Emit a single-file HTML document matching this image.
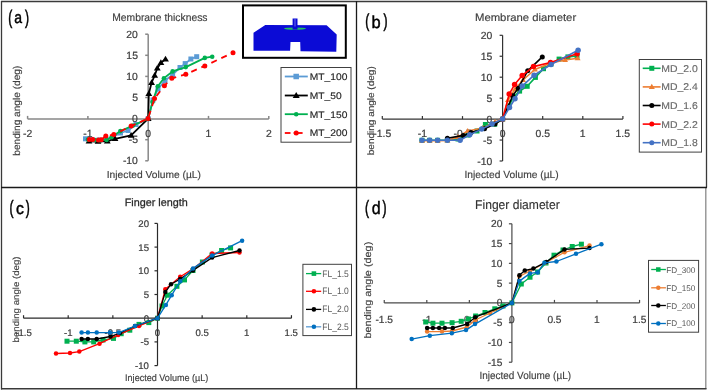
<!DOCTYPE html>
<html><head><meta charset="utf-8"><style>
html,body{margin:0;padding:0;background:#fff;overflow:hidden;}
svg{display:block;filter:blur(0.3px);}
text{font-family:"Liberation Sans", sans-serif;text-rendering:geometricPrecision;}
text.b{stroke-width:0.3px;}
</style></head><body>
<svg width="708" height="391" viewBox="0 0 708 391">
<rect width="708" height="391" fill="#fff"/>
<line x1="27.60" y1="118.90" x2="268.80" y2="118.90" stroke="#878787" stroke-width="1.5"/>
<line x1="27.60" y1="115.90" x2="27.60" y2="118.90" stroke="#878787" stroke-width="1.5"/>
<line x1="87.90" y1="115.90" x2="87.90" y2="118.90" stroke="#878787" stroke-width="1.5"/>
<line x1="148.20" y1="115.90" x2="148.20" y2="118.90" stroke="#878787" stroke-width="1.5"/>
<line x1="208.50" y1="115.90" x2="208.50" y2="118.90" stroke="#878787" stroke-width="1.5"/>
<line x1="268.80" y1="115.90" x2="268.80" y2="118.90" stroke="#878787" stroke-width="1.5"/>
<line x1="148.20" y1="34.20" x2="148.20" y2="160.80" stroke="#878787" stroke-width="1.5"/>
<line x1="145.20" y1="34.20" x2="148.20" y2="34.20" stroke="#878787" stroke-width="1.5"/>
<line x1="145.20" y1="55.30" x2="148.20" y2="55.30" stroke="#878787" stroke-width="1.5"/>
<line x1="145.20" y1="76.40" x2="148.20" y2="76.40" stroke="#878787" stroke-width="1.5"/>
<line x1="145.20" y1="97.50" x2="148.20" y2="97.50" stroke="#878787" stroke-width="1.5"/>
<line x1="145.20" y1="118.60" x2="148.20" y2="118.60" stroke="#878787" stroke-width="1.5"/>
<line x1="145.20" y1="139.70" x2="148.20" y2="139.70" stroke="#878787" stroke-width="1.5"/>
<line x1="145.20" y1="160.80" x2="148.20" y2="160.80" stroke="#878787" stroke-width="1.5"/>
<text x="23.01" y="137.20" font-size="10.40" fill="#404040" text-anchor="start" stroke="#404040" stroke-width="0.22">-2</text>
<text x="83.30" y="137.20" font-size="10.40" fill="#404040" text-anchor="start" stroke="#404040" stroke-width="0.22">-1</text>
<text x="145.31" y="137.20" font-size="10.40" fill="#404040" text-anchor="start" stroke="#404040" stroke-width="0.22">0</text>
<text x="205.47" y="137.20" font-size="10.40" fill="#404040" text-anchor="start" stroke="#404040" stroke-width="0.22">1</text>
<text x="265.91" y="137.20" font-size="10.40" fill="#404040" text-anchor="start" stroke="#404040" stroke-width="0.22">2</text>
<text x="126.34" y="37.80" font-size="10.40" fill="#404040" text-anchor="start" stroke="#404040" stroke-width="0.22">20</text>
<text x="126.37" y="58.90" font-size="10.40" fill="#404040" text-anchor="start" stroke="#404040" stroke-width="0.22">15</text>
<text x="126.34" y="80.00" font-size="10.40" fill="#404040" text-anchor="start" stroke="#404040" stroke-width="0.22">10</text>
<text x="132.15" y="101.10" font-size="10.40" fill="#404040" text-anchor="start" stroke="#404040" stroke-width="0.22">5</text>
<text x="132.12" y="122.20" font-size="10.40" fill="#404040" text-anchor="start" stroke="#404040" stroke-width="0.22">0</text>
<text x="128.69" y="143.30" font-size="10.40" fill="#404040" text-anchor="start" stroke="#404040" stroke-width="0.22">-5</text>
<text x="122.88" y="164.40" font-size="10.40" fill="#404040" text-anchor="start" stroke="#404040" stroke-width="0.22">-10</text>
<polyline points="85.5,138.8 92.0,139.6 99.0,140.0 106.0,139.2 113.0,137.0 120.5,133.0 128.0,130.5 136.0,124.5 148.2,118.6 153.0,100.0 158.0,89.0 165.0,80.5 172.6,74.7 180.0,67.5 185.2,63.6 190.9,59.0 196.7,56.7" fill="none" stroke="#5B9BD5" stroke-width="1.8" stroke-linejoin="round"/>
<rect x="83.00" y="136.30" width="5.00" height="5.00" fill="#5B9BD5"/>
<rect x="89.50" y="137.10" width="5.00" height="5.00" fill="#5B9BD5"/>
<rect x="96.50" y="137.50" width="5.00" height="5.00" fill="#5B9BD5"/>
<rect x="103.50" y="136.70" width="5.00" height="5.00" fill="#5B9BD5"/>
<rect x="110.50" y="134.50" width="5.00" height="5.00" fill="#5B9BD5"/>
<rect x="118.00" y="130.50" width="5.00" height="5.00" fill="#5B9BD5"/>
<rect x="125.50" y="128.00" width="5.00" height="5.00" fill="#5B9BD5"/>
<rect x="133.50" y="122.00" width="5.00" height="5.00" fill="#5B9BD5"/>
<rect x="145.70" y="116.10" width="5.00" height="5.00" fill="#5B9BD5"/>
<rect x="150.50" y="97.50" width="5.00" height="5.00" fill="#5B9BD5"/>
<rect x="155.50" y="86.50" width="5.00" height="5.00" fill="#5B9BD5"/>
<rect x="162.50" y="78.00" width="5.00" height="5.00" fill="#5B9BD5"/>
<rect x="170.10" y="72.20" width="5.00" height="5.00" fill="#5B9BD5"/>
<rect x="177.50" y="65.00" width="5.00" height="5.00" fill="#5B9BD5"/>
<rect x="182.70" y="61.10" width="5.00" height="5.00" fill="#5B9BD5"/>
<rect x="188.40" y="56.50" width="5.00" height="5.00" fill="#5B9BD5"/>
<rect x="194.20" y="54.20" width="5.00" height="5.00" fill="#5B9BD5"/>
<polyline points="89.0,141.3 98.0,141.5 107.3,141.2 115.0,138.8 131.1,135.4 148.2,118.6 148.8,93.7 151.6,82.6 154.7,75.5 157.3,68.3 160.9,62.7 165.5,59.1" fill="none" stroke="#000000" stroke-width="1.8" stroke-linejoin="round"/>
<polygon points="89.00,137.83 92.40,143.61 85.60,143.61" fill="#000000"/>
<polygon points="98.00,138.03 101.40,143.81 94.60,143.81" fill="#000000"/>
<polygon points="107.30,137.73 110.70,143.51 103.90,143.51" fill="#000000"/>
<polygon points="115.00,135.33 118.40,141.11 111.60,141.11" fill="#000000"/>
<polygon points="131.10,131.93 134.50,137.71 127.70,137.71" fill="#000000"/>
<polygon points="148.20,115.13 151.60,120.91 144.80,120.91" fill="#000000"/>
<polygon points="148.80,90.23 152.20,96.01 145.40,96.01" fill="#000000"/>
<polygon points="151.60,79.13 155.00,84.91 148.20,84.91" fill="#000000"/>
<polygon points="154.70,72.03 158.10,77.81 151.30,77.81" fill="#000000"/>
<polygon points="157.30,64.83 160.70,70.61 153.90,70.61" fill="#000000"/>
<polygon points="160.90,59.23 164.30,65.01 157.50,65.01" fill="#000000"/>
<polygon points="165.50,55.63 168.90,61.41 162.10,61.41" fill="#000000"/>
<polyline points="88.0,139.6 95.0,140.0 100.0,140.2 106.6,139.9 111.5,137.3 120.4,131.1 133.0,125.5 148.2,118.6 152.5,102.0 157.8,86.2 163.9,78.3 172.6,71.4 185.8,67.1 204.8,57.9 212.2,56.7" fill="none" stroke="#00B050" stroke-width="1.8" stroke-linejoin="round"/>
<circle cx="88.00" cy="139.60" r="2.30" fill="#00B050"/>
<circle cx="95.00" cy="140.00" r="2.30" fill="#00B050"/>
<circle cx="100.00" cy="140.20" r="2.30" fill="#00B050"/>
<circle cx="106.60" cy="139.90" r="2.30" fill="#00B050"/>
<circle cx="111.50" cy="137.30" r="2.30" fill="#00B050"/>
<circle cx="120.40" cy="131.10" r="2.30" fill="#00B050"/>
<circle cx="133.00" cy="125.50" r="2.30" fill="#00B050"/>
<circle cx="148.20" cy="118.60" r="2.30" fill="#00B050"/>
<circle cx="152.50" cy="102.00" r="2.30" fill="#00B050"/>
<circle cx="157.80" cy="86.20" r="2.30" fill="#00B050"/>
<circle cx="163.90" cy="78.30" r="2.30" fill="#00B050"/>
<circle cx="172.60" cy="71.40" r="2.30" fill="#00B050"/>
<circle cx="185.80" cy="67.10" r="2.30" fill="#00B050"/>
<circle cx="204.80" cy="57.90" r="2.30" fill="#00B050"/>
<circle cx="212.20" cy="56.70" r="2.30" fill="#00B050"/>
<polyline points="89.3,139.4 92.7,139.4 98.5,139.9 101.2,139.7 105.8,136.1 113.8,134.6 131.1,126.1 148.0,118.6 154.5,98.6 164.4,85.7 171.8,78.3 185.8,74.3 204.8,65.9 233.0,52.7" fill="none" stroke="#FF0000" stroke-width="1.8" stroke-linejoin="round" stroke-dasharray="6,5"/>
<circle cx="89.30" cy="139.40" r="2.50" fill="#FF0000"/>
<circle cx="92.70" cy="139.40" r="2.50" fill="#FF0000"/>
<circle cx="98.50" cy="139.90" r="2.50" fill="#FF0000"/>
<circle cx="101.20" cy="139.70" r="2.50" fill="#FF0000"/>
<circle cx="105.80" cy="136.10" r="2.50" fill="#FF0000"/>
<circle cx="113.80" cy="134.60" r="2.50" fill="#FF0000"/>
<circle cx="131.10" cy="126.10" r="2.50" fill="#FF0000"/>
<circle cx="148.00" cy="118.60" r="2.50" fill="#FF0000"/>
<circle cx="154.50" cy="98.60" r="2.50" fill="#FF0000"/>
<circle cx="164.40" cy="85.70" r="2.50" fill="#FF0000"/>
<circle cx="171.80" cy="78.30" r="2.50" fill="#FF0000"/>
<circle cx="185.80" cy="74.30" r="2.50" fill="#FF0000"/>
<circle cx="204.80" cy="65.90" r="2.50" fill="#FF0000"/>
<circle cx="233.00" cy="52.70" r="2.50" fill="#FF0000"/>
<text x="112.25" y="20.80" font-size="10.76" fill="#404040" text-anchor="start" textLength="95.22" lengthAdjust="spacingAndGlyphs" stroke="#404040" stroke-width="0.15">Membrane thickness</text>
<text x="106.76" y="178.19" font-size="10.19" fill="#404040" text-anchor="start" textLength="94.17" lengthAdjust="spacingAndGlyphs" stroke="#404040" stroke-width="0.15">Injected Volume (µL)</text>
<text x="0" y="0" font-size="9.87" fill="#404040" textLength="90.08" lengthAdjust="spacingAndGlyphs" transform="translate(19.75,155.75) rotate(-90)" stroke="#404040" stroke-width="0.15">bending angle (deg)</text>
<rect x="281.00" y="67.50" width="70.00" height="74.70" fill="#fff" stroke="#404040" stroke-width="1"/>
<line x1="284.80" y1="76.50" x2="307.80" y2="76.50" stroke="#5B9BD5" stroke-width="1.8"/>
<rect x="293.45" y="73.75" width="5.50" height="5.50" fill="#5B9BD5"/>
<text x="309.76" y="79.80" font-size="9.59" fill="#262626" text-anchor="start" textLength="37.64" lengthAdjust="spacingAndGlyphs" stroke="#262626" stroke-width="0.15">MT_100</text>
<line x1="284.80" y1="95.50" x2="307.80" y2="95.50" stroke="#000000" stroke-width="1.8"/>
<polygon points="296.20,91.93 299.70,97.88 292.70,97.88" fill="#000000"/>
<text x="309.76" y="99.00" font-size="9.59" fill="#262626" text-anchor="start" textLength="31.94" lengthAdjust="spacingAndGlyphs" stroke="#262626" stroke-width="0.15">MT_50</text>
<line x1="284.80" y1="114.20" x2="307.80" y2="114.20" stroke="#00B050" stroke-width="1.8"/>
<circle cx="296.20" cy="114.20" r="2.30" fill="#00B050"/>
<text x="309.76" y="117.50" font-size="9.59" fill="#262626" text-anchor="start" textLength="37.64" lengthAdjust="spacingAndGlyphs" stroke="#262626" stroke-width="0.15">MT_150</text>
<line x1="284.80" y1="133.00" x2="290.50" y2="133.00" stroke="#FF0000" stroke-width="1.8"/>
<line x1="293.70" y1="133.00" x2="302.60" y2="133.00" stroke="#FF0000" stroke-width="1.8"/>
<circle cx="296.20" cy="133.00" r="2.50" fill="#FF0000"/>
<text x="309.76" y="136.30" font-size="9.59" fill="#262626" text-anchor="start" textLength="37.64" lengthAdjust="spacingAndGlyphs" stroke="#262626" stroke-width="0.15">MT_200</text>
<rect x="243" y="5.4" width="102.8" height="52.4" fill="#fff" stroke="#000" stroke-width="2"/>
<polygon points="265.3,24.9 326.6,25.2 336.7,34.5 336.3,51.8 300.5,51.3 300.2,42 290.5,42 290.1,50.8 253.5,50.8 253.5,32.8" fill="#0b0bd6"/>
<rect x="292.6" y="18.5" width="4.9" height="11" fill="#0b0bd6"/>
<line x1="295" y1="19" x2="295" y2="29" stroke="#8a8af0" stroke-width="0.8"/>
<ellipse cx="295" cy="28.6" rx="11" ry="1.1" fill="#20c060"/>
<rect x="292.6" y="26.5" width="4.9" height="3" fill="#0b0bd6"/>
<text x="8.20" y="23.56" font-size="19.54" fill="#000" text-anchor="start" textLength="4.02" lengthAdjust="spacingAndGlyphs" stroke="#000" stroke-width="0.6">(</text>
<text x="24.98" y="23.56" font-size="19.54" fill="#000" text-anchor="start" textLength="4.02" lengthAdjust="spacingAndGlyphs" stroke="#000" stroke-width="0.6">)</text>
<text x="14.30" y="23.44" font-size="16.61" fill="#000" text-anchor="start" textLength="7.80" lengthAdjust="spacingAndGlyphs" stroke="#000" stroke-width="0.45">a</text>
<line x1="382.30" y1="119.10" x2="622.90" y2="119.10" stroke="#333333" stroke-width="1.2"/>
<line x1="382.30" y1="116.10" x2="382.30" y2="119.10" stroke="#333333" stroke-width="1.2"/>
<line x1="422.40" y1="116.10" x2="422.40" y2="119.10" stroke="#333333" stroke-width="1.2"/>
<line x1="462.50" y1="116.10" x2="462.50" y2="119.10" stroke="#333333" stroke-width="1.2"/>
<line x1="502.60" y1="116.10" x2="502.60" y2="119.10" stroke="#333333" stroke-width="1.2"/>
<line x1="542.70" y1="116.10" x2="542.70" y2="119.10" stroke="#333333" stroke-width="1.2"/>
<line x1="582.80" y1="116.10" x2="582.80" y2="119.10" stroke="#333333" stroke-width="1.2"/>
<line x1="622.90" y1="116.10" x2="622.90" y2="119.10" stroke="#333333" stroke-width="1.2"/>
<line x1="502.60" y1="35.30" x2="502.60" y2="161.00" stroke="#333333" stroke-width="1.2"/>
<line x1="499.60" y1="35.30" x2="502.60" y2="35.30" stroke="#333333" stroke-width="1.2"/>
<line x1="499.60" y1="56.25" x2="502.60" y2="56.25" stroke="#333333" stroke-width="1.2"/>
<line x1="499.60" y1="77.20" x2="502.60" y2="77.20" stroke="#333333" stroke-width="1.2"/>
<line x1="499.60" y1="98.15" x2="502.60" y2="98.15" stroke="#333333" stroke-width="1.2"/>
<line x1="499.60" y1="119.10" x2="502.60" y2="119.10" stroke="#333333" stroke-width="1.2"/>
<line x1="499.60" y1="140.05" x2="502.60" y2="140.05" stroke="#333333" stroke-width="1.2"/>
<line x1="499.60" y1="161.00" x2="502.60" y2="161.00" stroke="#333333" stroke-width="1.2"/>
<text x="373.33" y="137.20" font-size="10.40" fill="#404040" text-anchor="start" stroke="#404040" stroke-width="0.22">-1.5</text>
<text x="417.80" y="137.20" font-size="10.40" fill="#404040" text-anchor="start" stroke="#404040" stroke-width="0.22">-1</text>
<text x="453.53" y="137.20" font-size="10.40" fill="#404040" text-anchor="start" stroke="#404040" stroke-width="0.22">-0.5</text>
<text x="499.71" y="137.20" font-size="10.40" fill="#404040" text-anchor="start" stroke="#404040" stroke-width="0.22">0</text>
<text x="535.49" y="137.20" font-size="10.40" fill="#404040" text-anchor="start" stroke="#404040" stroke-width="0.22">0.5</text>
<text x="579.77" y="137.20" font-size="10.40" fill="#404040" text-anchor="start" stroke="#404040" stroke-width="0.22">1</text>
<text x="615.49" y="137.20" font-size="10.40" fill="#404040" text-anchor="start" stroke="#404040" stroke-width="0.22">1.5</text>
<text x="480.74" y="38.90" font-size="10.40" fill="#404040" text-anchor="start" stroke="#404040" stroke-width="0.22">20</text>
<text x="480.77" y="59.85" font-size="10.40" fill="#404040" text-anchor="start" stroke="#404040" stroke-width="0.22">15</text>
<text x="480.74" y="80.80" font-size="10.40" fill="#404040" text-anchor="start" stroke="#404040" stroke-width="0.22">10</text>
<text x="486.55" y="101.75" font-size="10.40" fill="#404040" text-anchor="start" stroke="#404040" stroke-width="0.22">5</text>
<text x="486.52" y="122.70" font-size="10.40" fill="#404040" text-anchor="start" stroke="#404040" stroke-width="0.22">0</text>
<text x="483.09" y="143.65" font-size="10.40" fill="#404040" text-anchor="start" stroke="#404040" stroke-width="0.22">-5</text>
<text x="477.27" y="164.60" font-size="10.40" fill="#404040" text-anchor="start" stroke="#404040" stroke-width="0.22">-10</text>
<polyline points="422.0,140.3 429.6,140.3 437.6,140.3 447.4,140.0 458.0,139.0 468.0,135.0 477.0,131.0 485.4,124.5 494.7,124.2 502.6,119.1 509.0,106.0 513.5,97.0 519.6,91.1 527.2,86.3 535.4,77.4 543.5,68.7 551.0,64.0 559.1,59.1 567.9,56.9 577.0,56.0" fill="none" stroke="#00B050" stroke-width="1.6" stroke-linejoin="round"/>
<rect x="419.50" y="137.80" width="5.00" height="5.00" fill="#00B050"/>
<rect x="427.10" y="137.80" width="5.00" height="5.00" fill="#00B050"/>
<rect x="435.10" y="137.80" width="5.00" height="5.00" fill="#00B050"/>
<rect x="444.90" y="137.50" width="5.00" height="5.00" fill="#00B050"/>
<rect x="455.50" y="136.50" width="5.00" height="5.00" fill="#00B050"/>
<rect x="465.50" y="132.50" width="5.00" height="5.00" fill="#00B050"/>
<rect x="474.50" y="128.50" width="5.00" height="5.00" fill="#00B050"/>
<rect x="482.90" y="122.00" width="5.00" height="5.00" fill="#00B050"/>
<rect x="492.20" y="121.70" width="5.00" height="5.00" fill="#00B050"/>
<rect x="500.10" y="116.60" width="5.00" height="5.00" fill="#00B050"/>
<rect x="506.50" y="103.50" width="5.00" height="5.00" fill="#00B050"/>
<rect x="511.00" y="94.50" width="5.00" height="5.00" fill="#00B050"/>
<rect x="517.10" y="88.60" width="5.00" height="5.00" fill="#00B050"/>
<rect x="524.70" y="83.80" width="5.00" height="5.00" fill="#00B050"/>
<rect x="532.90" y="74.90" width="5.00" height="5.00" fill="#00B050"/>
<rect x="541.00" y="66.20" width="5.00" height="5.00" fill="#00B050"/>
<rect x="548.50" y="61.50" width="5.00" height="5.00" fill="#00B050"/>
<rect x="556.60" y="56.60" width="5.00" height="5.00" fill="#00B050"/>
<rect x="565.40" y="54.40" width="5.00" height="5.00" fill="#00B050"/>
<rect x="574.50" y="53.50" width="5.00" height="5.00" fill="#00B050"/>
<polyline points="422.0,140.8 429.6,140.8 437.6,140.8 447.4,140.5 458.0,137.0 467.7,131.0 483.0,128.0 495.0,122.0 502.6,119.1 508.0,100.0 515.0,89.3 523.0,80.0 534.9,69.5 551.0,63.0 565.0,60.0 577.6,58.2" fill="none" stroke="#ED7D31" stroke-width="1.6" stroke-linejoin="round"/>
<polygon points="422.00,137.74 425.00,142.84 419.00,142.84" fill="#ED7D31"/>
<polygon points="429.60,137.74 432.60,142.84 426.60,142.84" fill="#ED7D31"/>
<polygon points="437.60,137.74 440.60,142.84 434.60,142.84" fill="#ED7D31"/>
<polygon points="447.40,137.44 450.40,142.54 444.40,142.54" fill="#ED7D31"/>
<polygon points="458.00,133.94 461.00,139.04 455.00,139.04" fill="#ED7D31"/>
<polygon points="467.70,127.94 470.70,133.04 464.70,133.04" fill="#ED7D31"/>
<polygon points="483.00,124.94 486.00,130.04 480.00,130.04" fill="#ED7D31"/>
<polygon points="495.00,118.94 498.00,124.04 492.00,124.04" fill="#ED7D31"/>
<polygon points="502.60,116.04 505.60,121.14 499.60,121.14" fill="#ED7D31"/>
<polygon points="508.00,96.94 511.00,102.04 505.00,102.04" fill="#ED7D31"/>
<polygon points="515.00,86.24 518.00,91.34 512.00,91.34" fill="#ED7D31"/>
<polygon points="523.00,76.94 526.00,82.04 520.00,82.04" fill="#ED7D31"/>
<polygon points="534.90,66.44 537.90,71.54 531.90,71.54" fill="#ED7D31"/>
<polygon points="551.00,59.94 554.00,65.04 548.00,65.04" fill="#ED7D31"/>
<polygon points="565.00,56.94 568.00,62.04 562.00,62.04" fill="#ED7D31"/>
<polygon points="577.60,55.14 580.60,60.24 574.60,60.24" fill="#ED7D31"/>
<polyline points="447.4,138.2 463.3,135.4 471.0,132.5 484.5,128.8 495.0,124.0 502.6,119.1 512.7,95.7 518.2,88.2 527.7,70.8 542.3,56.9" fill="none" stroke="#000000" stroke-width="1.6" stroke-linejoin="round"/>
<circle cx="447.40" cy="138.20" r="2.50" fill="#000000"/>
<circle cx="463.30" cy="135.40" r="2.50" fill="#000000"/>
<circle cx="471.00" cy="132.50" r="2.50" fill="#000000"/>
<circle cx="484.50" cy="128.80" r="2.50" fill="#000000"/>
<circle cx="495.00" cy="124.00" r="2.50" fill="#000000"/>
<circle cx="502.60" cy="119.10" r="2.50" fill="#000000"/>
<circle cx="512.70" cy="95.70" r="2.50" fill="#000000"/>
<circle cx="518.20" cy="88.20" r="2.50" fill="#000000"/>
<circle cx="527.70" cy="70.80" r="2.50" fill="#000000"/>
<circle cx="542.30" cy="56.90" r="2.50" fill="#000000"/>
<polyline points="502.6,119.1 509.2,94.1 514.6,84.6 522.2,75.5 533.5,66.6 550.5,62.5 577.1,53.8" fill="none" stroke="#FF0000" stroke-width="1.6" stroke-linejoin="round"/>
<circle cx="502.60" cy="119.10" r="2.75" fill="#FF0000"/>
<circle cx="509.20" cy="94.10" r="2.75" fill="#FF0000"/>
<circle cx="514.60" cy="84.60" r="2.75" fill="#FF0000"/>
<circle cx="522.20" cy="75.50" r="2.75" fill="#FF0000"/>
<circle cx="533.50" cy="66.60" r="2.75" fill="#FF0000"/>
<circle cx="550.50" cy="62.50" r="2.75" fill="#FF0000"/>
<circle cx="577.10" cy="53.80" r="2.75" fill="#FF0000"/>
<polyline points="422.0,140.3 429.6,140.3 437.6,140.3 447.4,140.3 460.1,140.3 469.7,134.8 481.7,129.1 492.0,124.0 502.6,119.1 509.5,107.5 515.0,98.8 522.2,86.1 534.1,75.2 551.0,64.5 578.1,50.2" fill="none" stroke="#4472C4" stroke-width="1.6" stroke-linejoin="round"/>
<circle cx="422.00" cy="140.30" r="2.75" fill="#4472C4"/>
<circle cx="429.60" cy="140.30" r="2.75" fill="#4472C4"/>
<circle cx="437.60" cy="140.30" r="2.75" fill="#4472C4"/>
<circle cx="447.40" cy="140.30" r="2.75" fill="#4472C4"/>
<circle cx="460.10" cy="140.30" r="2.75" fill="#4472C4"/>
<circle cx="469.70" cy="134.80" r="2.75" fill="#4472C4"/>
<circle cx="481.70" cy="129.10" r="2.75" fill="#4472C4"/>
<circle cx="492.00" cy="124.00" r="2.75" fill="#4472C4"/>
<circle cx="502.60" cy="119.10" r="2.75" fill="#4472C4"/>
<circle cx="509.50" cy="107.50" r="2.75" fill="#4472C4"/>
<circle cx="515.00" cy="98.80" r="2.75" fill="#4472C4"/>
<circle cx="522.20" cy="86.10" r="2.75" fill="#4472C4"/>
<circle cx="534.10" cy="75.20" r="2.75" fill="#4472C4"/>
<circle cx="551.00" cy="64.50" r="2.75" fill="#4472C4"/>
<circle cx="578.10" cy="50.20" r="2.75" fill="#4472C4"/>
<text x="474.97" y="20.80" font-size="10.76" fill="#404040" text-anchor="start" textLength="101.22" lengthAdjust="spacingAndGlyphs" stroke="#404040" stroke-width="0.15">Membrane diameter</text>
<text x="464.46" y="178.46" font-size="10.30" fill="#404040" text-anchor="start" textLength="94.27" lengthAdjust="spacingAndGlyphs" stroke="#404040" stroke-width="0.15">Injected Volume (µL)</text>
<text x="0" y="0" font-size="9.33" fill="#404040" textLength="88.96" lengthAdjust="spacingAndGlyphs" transform="translate(374.36,155.24) rotate(-90)" stroke="#404040" stroke-width="0.15">bending angle (deg)</text>
<rect x="639.30" y="59.50" width="62.20" height="92.60" fill="#fff" stroke="#404040" stroke-width="1"/>
<line x1="642.70" y1="68.30" x2="660.60" y2="68.30" stroke="#00B050" stroke-width="1.6"/>
<rect x="649.30" y="65.80" width="5.00" height="5.00" fill="#00B050"/>
<text x="661.35" y="71.80" font-size="9.88" fill="#6a6a6a" text-anchor="start" textLength="36.46" lengthAdjust="spacingAndGlyphs" stroke="#6a6a6a" stroke-width="0.15">MD_2.0</text>
<line x1="642.70" y1="86.90" x2="660.60" y2="86.90" stroke="#ED7D31" stroke-width="1.6"/>
<polygon points="651.80,83.84 654.80,88.94 648.80,88.94" fill="#ED7D31"/>
<text x="661.35" y="90.40" font-size="9.88" fill="#6a6a6a" text-anchor="start" textLength="36.46" lengthAdjust="spacingAndGlyphs" stroke="#6a6a6a" stroke-width="0.15">MD_2.4</text>
<line x1="642.70" y1="105.50" x2="660.60" y2="105.50" stroke="#000000" stroke-width="1.6"/>
<circle cx="651.80" cy="105.50" r="2.50" fill="#000000"/>
<text x="661.35" y="109.00" font-size="9.88" fill="#6a6a6a" text-anchor="start" textLength="36.46" lengthAdjust="spacingAndGlyphs" stroke="#6a6a6a" stroke-width="0.15">MD_1.6</text>
<line x1="642.70" y1="124.10" x2="660.60" y2="124.10" stroke="#FF0000" stroke-width="1.6"/>
<circle cx="651.80" cy="124.10" r="2.50" fill="#FF0000"/>
<text x="661.35" y="127.60" font-size="9.88" fill="#6a6a6a" text-anchor="start" textLength="36.46" lengthAdjust="spacingAndGlyphs" stroke="#6a6a6a" stroke-width="0.15">MD_2.2</text>
<line x1="642.70" y1="142.70" x2="660.60" y2="142.70" stroke="#4472C4" stroke-width="1.6"/>
<circle cx="651.80" cy="142.70" r="2.50" fill="#4472C4"/>
<text x="661.35" y="146.20" font-size="9.88" fill="#6a6a6a" text-anchor="start" textLength="36.46" lengthAdjust="spacingAndGlyphs" stroke="#6a6a6a" stroke-width="0.15">MD_1.8</text>
<text x="365.30" y="27.36" font-size="18.57" fill="#000" text-anchor="start" textLength="4.02" lengthAdjust="spacingAndGlyphs" stroke="#000" stroke-width="0.6">(</text>
<text x="383.38" y="27.36" font-size="18.57" fill="#000" text-anchor="start" textLength="4.02" lengthAdjust="spacingAndGlyphs" stroke="#000" stroke-width="0.6">)</text>
<text x="371.54" y="27.53" font-size="17.29" fill="#000" text-anchor="start" textLength="9.15" lengthAdjust="spacingAndGlyphs" stroke="#000" stroke-width="0.45">b</text>
<line x1="23.55" y1="318.20" x2="291.45" y2="318.20" stroke="#2a2a2a" stroke-width="1.2"/>
<line x1="23.55" y1="315.20" x2="23.55" y2="318.20" stroke="#2a2a2a" stroke-width="1.2"/>
<line x1="68.20" y1="315.20" x2="68.20" y2="318.20" stroke="#2a2a2a" stroke-width="1.2"/>
<line x1="112.85" y1="315.20" x2="112.85" y2="318.20" stroke="#2a2a2a" stroke-width="1.2"/>
<line x1="157.50" y1="315.20" x2="157.50" y2="318.20" stroke="#2a2a2a" stroke-width="1.2"/>
<line x1="202.15" y1="315.20" x2="202.15" y2="318.20" stroke="#2a2a2a" stroke-width="1.2"/>
<line x1="246.80" y1="315.20" x2="246.80" y2="318.20" stroke="#2a2a2a" stroke-width="1.2"/>
<line x1="291.45" y1="315.20" x2="291.45" y2="318.20" stroke="#2a2a2a" stroke-width="1.2"/>
<line x1="157.50" y1="223.40" x2="157.50" y2="365.60" stroke="#2a2a2a" stroke-width="1.2"/>
<line x1="154.50" y1="223.40" x2="157.50" y2="223.40" stroke="#2a2a2a" stroke-width="1.2"/>
<line x1="154.50" y1="247.10" x2="157.50" y2="247.10" stroke="#2a2a2a" stroke-width="1.2"/>
<line x1="154.50" y1="270.80" x2="157.50" y2="270.80" stroke="#2a2a2a" stroke-width="1.2"/>
<line x1="154.50" y1="294.50" x2="157.50" y2="294.50" stroke="#2a2a2a" stroke-width="1.2"/>
<line x1="154.50" y1="318.20" x2="157.50" y2="318.20" stroke="#2a2a2a" stroke-width="1.2"/>
<line x1="154.50" y1="341.90" x2="157.50" y2="341.90" stroke="#2a2a2a" stroke-width="1.2"/>
<line x1="154.50" y1="365.60" x2="157.50" y2="365.60" stroke="#2a2a2a" stroke-width="1.2"/>
<text x="15.27" y="335.50" font-size="9.60" fill="#404040" text-anchor="start" stroke="#404040" stroke-width="0.22">-1.5</text>
<text x="63.95" y="335.50" font-size="9.60" fill="#404040" text-anchor="start" stroke="#404040" stroke-width="0.22">-1</text>
<text x="104.57" y="335.50" font-size="9.60" fill="#404040" text-anchor="start" stroke="#404040" stroke-width="0.22">-0.5</text>
<text x="154.83" y="335.50" font-size="9.60" fill="#404040" text-anchor="start" stroke="#404040" stroke-width="0.22">0</text>
<text x="195.49" y="335.50" font-size="9.60" fill="#404040" text-anchor="start" stroke="#404040" stroke-width="0.22">0.5</text>
<text x="244.00" y="335.50" font-size="9.60" fill="#404040" text-anchor="start" stroke="#404040" stroke-width="0.22">1</text>
<text x="284.61" y="335.50" font-size="9.60" fill="#404040" text-anchor="start" stroke="#404040" stroke-width="0.22">1.5</text>
<text x="138.30" y="226.80" font-size="9.60" fill="#404040" text-anchor="start" stroke="#404040" stroke-width="0.22">20</text>
<text x="138.32" y="250.50" font-size="9.60" fill="#404040" text-anchor="start" stroke="#404040" stroke-width="0.22">15</text>
<text x="138.30" y="274.20" font-size="9.60" fill="#404040" text-anchor="start" stroke="#404040" stroke-width="0.22">10</text>
<text x="143.66" y="297.90" font-size="9.60" fill="#404040" text-anchor="start" stroke="#404040" stroke-width="0.22">5</text>
<text x="143.64" y="321.60" font-size="9.60" fill="#404040" text-anchor="start" stroke="#404040" stroke-width="0.22">0</text>
<text x="140.47" y="345.30" font-size="9.60" fill="#404040" text-anchor="start" stroke="#404040" stroke-width="0.22">-5</text>
<text x="135.10" y="369.00" font-size="9.60" fill="#404040" text-anchor="start" stroke="#404040" stroke-width="0.22">-10</text>
<polyline points="67.0,341.2 76.3,341.2 84.9,341.9 93.7,341.9 103.0,340.0 113.5,338.4 121.2,333.7 129.8,330.2 139.0,324.4 148.8,322.6 157.5,318.2 162.0,306.0 167.4,295.2 176.9,286.3 184.5,279.9 193.0,270.5 202.4,262.0 212.0,255.0 221.6,250.5 230.6,247.9" fill="none" stroke="#00B050" stroke-width="1.3" stroke-linejoin="round"/>
<rect x="64.50" y="338.70" width="5.00" height="5.00" fill="#00B050"/>
<rect x="73.80" y="338.70" width="5.00" height="5.00" fill="#00B050"/>
<rect x="82.40" y="339.40" width="5.00" height="5.00" fill="#00B050"/>
<rect x="91.20" y="339.40" width="5.00" height="5.00" fill="#00B050"/>
<rect x="100.50" y="337.50" width="5.00" height="5.00" fill="#00B050"/>
<rect x="111.00" y="335.90" width="5.00" height="5.00" fill="#00B050"/>
<rect x="118.70" y="331.20" width="5.00" height="5.00" fill="#00B050"/>
<rect x="127.30" y="327.70" width="5.00" height="5.00" fill="#00B050"/>
<rect x="136.50" y="321.90" width="5.00" height="5.00" fill="#00B050"/>
<rect x="146.30" y="320.10" width="5.00" height="5.00" fill="#00B050"/>
<rect x="155.00" y="315.70" width="5.00" height="5.00" fill="#00B050"/>
<rect x="159.50" y="303.50" width="5.00" height="5.00" fill="#00B050"/>
<rect x="164.90" y="292.70" width="5.00" height="5.00" fill="#00B050"/>
<rect x="174.40" y="283.80" width="5.00" height="5.00" fill="#00B050"/>
<rect x="182.00" y="277.40" width="5.00" height="5.00" fill="#00B050"/>
<rect x="190.50" y="268.00" width="5.00" height="5.00" fill="#00B050"/>
<rect x="199.90" y="259.50" width="5.00" height="5.00" fill="#00B050"/>
<rect x="209.50" y="252.50" width="5.00" height="5.00" fill="#00B050"/>
<rect x="219.10" y="248.00" width="5.00" height="5.00" fill="#00B050"/>
<rect x="228.10" y="245.40" width="5.00" height="5.00" fill="#00B050"/>
<polyline points="56.0,353.5 70.0,353.0 79.3,351.6 99.5,343.7 118.1,334.9 139.0,326.0 157.5,318.2 165.3,289.3 180.2,276.8 193.0,268.9 212.1,253.5 239.5,252.5" fill="none" stroke="#FF0000" stroke-width="1.3" stroke-linejoin="round"/>
<circle cx="56.00" cy="353.50" r="2.25" fill="#FF0000"/>
<circle cx="70.00" cy="353.00" r="2.25" fill="#FF0000"/>
<circle cx="79.30" cy="351.60" r="2.25" fill="#FF0000"/>
<circle cx="99.50" cy="343.70" r="2.25" fill="#FF0000"/>
<circle cx="118.10" cy="334.90" r="2.25" fill="#FF0000"/>
<circle cx="139.00" cy="326.00" r="2.25" fill="#FF0000"/>
<circle cx="157.50" cy="318.20" r="2.25" fill="#FF0000"/>
<circle cx="165.30" cy="289.30" r="2.25" fill="#FF0000"/>
<circle cx="180.20" cy="276.80" r="2.25" fill="#FF0000"/>
<circle cx="193.00" cy="268.90" r="2.25" fill="#FF0000"/>
<circle cx="212.10" cy="253.50" r="2.25" fill="#FF0000"/>
<circle cx="239.50" cy="252.50" r="2.25" fill="#FF0000"/>
<polyline points="81.6,339.0 87.9,339.0 96.7,339.0 110.5,336.5 120.0,333.0 135.0,326.0 157.5,318.2 165.3,292.1 171.0,284.2 180.2,279.0 193.0,270.4 212.1,257.6 239.5,250.5" fill="none" stroke="#000000" stroke-width="1.3" stroke-linejoin="round"/>
<circle cx="81.60" cy="339.00" r="2.25" fill="#000000"/>
<circle cx="87.90" cy="339.00" r="2.25" fill="#000000"/>
<circle cx="96.70" cy="339.00" r="2.25" fill="#000000"/>
<circle cx="110.50" cy="336.50" r="2.25" fill="#000000"/>
<circle cx="120.00" cy="333.00" r="2.25" fill="#000000"/>
<circle cx="135.00" cy="326.00" r="2.25" fill="#000000"/>
<circle cx="157.50" cy="318.20" r="2.25" fill="#000000"/>
<circle cx="165.30" cy="292.10" r="2.25" fill="#000000"/>
<circle cx="171.00" cy="284.20" r="2.25" fill="#000000"/>
<circle cx="180.20" cy="279.00" r="2.25" fill="#000000"/>
<circle cx="193.00" cy="270.40" r="2.25" fill="#000000"/>
<circle cx="212.10" cy="257.60" r="2.25" fill="#000000"/>
<circle cx="239.50" cy="250.50" r="2.25" fill="#000000"/>
<polyline points="81.6,332.6 87.9,332.6 96.7,332.6 110.0,332.6 118.8,332.6 135.0,326.0 157.5,318.2 165.9,304.9 171.7,295.2 180.2,281.2 193.0,268.4 212.1,255.6 242.1,240.7" fill="none" stroke="#0070C0" stroke-width="1.3" stroke-linejoin="round"/>
<circle cx="81.60" cy="332.60" r="2.25" fill="#0070C0"/>
<circle cx="87.90" cy="332.60" r="2.25" fill="#0070C0"/>
<circle cx="96.70" cy="332.60" r="2.25" fill="#0070C0"/>
<circle cx="110.00" cy="332.60" r="2.25" fill="#0070C0"/>
<circle cx="118.80" cy="332.60" r="2.25" fill="#0070C0"/>
<circle cx="135.00" cy="326.00" r="2.25" fill="#0070C0"/>
<circle cx="157.50" cy="318.20" r="2.25" fill="#0070C0"/>
<circle cx="165.90" cy="304.90" r="2.25" fill="#0070C0"/>
<circle cx="171.70" cy="295.20" r="2.25" fill="#0070C0"/>
<circle cx="180.20" cy="281.20" r="2.25" fill="#0070C0"/>
<circle cx="193.00" cy="268.40" r="2.25" fill="#0070C0"/>
<circle cx="212.10" cy="255.60" r="2.25" fill="#0070C0"/>
<circle cx="242.10" cy="240.70" r="2.25" fill="#0070C0"/>
<text x="124.71" y="205.95" font-size="10.84" fill="#262626" text-anchor="start" textLength="63.09" lengthAdjust="spacingAndGlyphs" stroke="#262626" stroke-width="0.25">Finger length</text>
<text x="125.07" y="381.32" font-size="9.55" fill="#404040" text-anchor="start" textLength="83.29" lengthAdjust="spacingAndGlyphs" stroke="#404040" stroke-width="0.15">Injected Volume (µL)</text>
<text x="0" y="0" font-size="8.80" fill="#404040" textLength="85.92" lengthAdjust="spacingAndGlyphs" transform="translate(18.97,342.42) rotate(-90)" stroke="#404040" stroke-width="0.15">bending angle (deg)</text>
<rect x="302.90" y="264.30" width="48.60" height="71.30" fill="#fff" stroke="#404040" stroke-width="1"/>
<line x1="306.00" y1="273.60" x2="321.20" y2="273.60" stroke="#00B050" stroke-width="1.3"/>
<rect x="311.60" y="271.30" width="4.60" height="4.60" fill="#00B050"/>
<text x="322.30" y="276.60" font-size="9.30" fill="#595959" text-anchor="start" textLength="26.45" lengthAdjust="spacingAndGlyphs">FL_1.5</text>
<line x1="306.00" y1="291.30" x2="321.20" y2="291.30" stroke="#FF0000" stroke-width="1.3"/>
<circle cx="313.90" cy="291.30" r="2.30" fill="#FF0000"/>
<text x="322.30" y="294.30" font-size="9.30" fill="#595959" text-anchor="start" textLength="26.45" lengthAdjust="spacingAndGlyphs">FL_1.0</text>
<line x1="306.00" y1="309.40" x2="321.20" y2="309.40" stroke="#000000" stroke-width="1.3"/>
<circle cx="313.90" cy="309.40" r="2.30" fill="#000000"/>
<text x="322.30" y="311.80" font-size="9.30" fill="#595959" text-anchor="start" textLength="26.45" lengthAdjust="spacingAndGlyphs">FL_2.0</text>
<line x1="306.00" y1="326.80" x2="321.20" y2="326.80" stroke="#5B9BD5" stroke-width="1.3"/>
<circle cx="313.90" cy="326.80" r="2.30" fill="#0070C0"/>
<text x="322.30" y="329.90" font-size="9.30" fill="#595959" text-anchor="start" textLength="26.45" lengthAdjust="spacingAndGlyphs">FL_2.5</text>
<text x="9.60" y="213.90" font-size="19.32" fill="#000" text-anchor="start" textLength="4.02" lengthAdjust="spacingAndGlyphs" stroke="#000" stroke-width="0.6">(</text>
<text x="25.68" y="213.90" font-size="19.32" fill="#000" text-anchor="start" textLength="4.02" lengthAdjust="spacingAndGlyphs" stroke="#000" stroke-width="0.6">)</text>
<text x="15.93" y="214.44" font-size="16.61" fill="#000" text-anchor="start" textLength="7.89" lengthAdjust="spacingAndGlyphs" stroke="#000" stroke-width="0.45">c</text>
<line x1="384.25" y1="302.90" x2="639.55" y2="302.90" stroke="#4a4a4a" stroke-width="1.2"/>
<line x1="384.25" y1="299.90" x2="384.25" y2="302.90" stroke="#4a4a4a" stroke-width="1.2"/>
<line x1="426.80" y1="299.90" x2="426.80" y2="302.90" stroke="#4a4a4a" stroke-width="1.2"/>
<line x1="469.35" y1="299.90" x2="469.35" y2="302.90" stroke="#4a4a4a" stroke-width="1.2"/>
<line x1="511.90" y1="299.90" x2="511.90" y2="302.90" stroke="#4a4a4a" stroke-width="1.2"/>
<line x1="554.45" y1="299.90" x2="554.45" y2="302.90" stroke="#4a4a4a" stroke-width="1.2"/>
<line x1="597.00" y1="299.90" x2="597.00" y2="302.90" stroke="#4a4a4a" stroke-width="1.2"/>
<line x1="639.55" y1="299.90" x2="639.55" y2="302.90" stroke="#4a4a4a" stroke-width="1.2"/>
<line x1="511.90" y1="223.80" x2="511.90" y2="362.22" stroke="#4a4a4a" stroke-width="1.2"/>
<line x1="508.90" y1="223.80" x2="511.90" y2="223.80" stroke="#4a4a4a" stroke-width="1.2"/>
<line x1="508.90" y1="243.57" x2="511.90" y2="243.57" stroke="#4a4a4a" stroke-width="1.2"/>
<line x1="508.90" y1="263.35" x2="511.90" y2="263.35" stroke="#4a4a4a" stroke-width="1.2"/>
<line x1="508.90" y1="283.12" x2="511.90" y2="283.12" stroke="#4a4a4a" stroke-width="1.2"/>
<line x1="508.90" y1="302.90" x2="511.90" y2="302.90" stroke="#4a4a4a" stroke-width="1.2"/>
<line x1="508.90" y1="322.67" x2="511.90" y2="322.67" stroke="#4a4a4a" stroke-width="1.2"/>
<line x1="508.90" y1="342.45" x2="511.90" y2="342.45" stroke="#4a4a4a" stroke-width="1.2"/>
<line x1="508.90" y1="362.22" x2="511.90" y2="362.22" stroke="#4a4a4a" stroke-width="1.2"/>
<text x="375.45" y="322.60" font-size="10.20" fill="#404040" text-anchor="start" stroke="#404040" stroke-width="0.22">-1.5</text>
<text x="422.29" y="322.60" font-size="10.20" fill="#404040" text-anchor="start" stroke="#404040" stroke-width="0.22">-1</text>
<text x="460.55" y="322.60" font-size="10.20" fill="#404040" text-anchor="start" stroke="#404040" stroke-width="0.22">-0.5</text>
<text x="509.06" y="322.60" font-size="10.20" fill="#404040" text-anchor="start" stroke="#404040" stroke-width="0.22">0</text>
<text x="547.38" y="322.60" font-size="10.20" fill="#404040" text-anchor="start" stroke="#404040" stroke-width="0.22">0.5</text>
<text x="594.02" y="322.60" font-size="10.20" fill="#404040" text-anchor="start" stroke="#404040" stroke-width="0.22">1</text>
<text x="632.29" y="322.60" font-size="10.20" fill="#404040" text-anchor="start" stroke="#404040" stroke-width="0.22">1.5</text>
<text x="491.05" y="227.30" font-size="10.20" fill="#404040" text-anchor="start" stroke="#404040" stroke-width="0.22">20</text>
<text x="491.08" y="247.07" font-size="10.20" fill="#404040" text-anchor="start" stroke="#404040" stroke-width="0.22">15</text>
<text x="491.05" y="266.85" font-size="10.20" fill="#404040" text-anchor="start" stroke="#404040" stroke-width="0.22">10</text>
<text x="496.76" y="286.62" font-size="10.20" fill="#404040" text-anchor="start" stroke="#404040" stroke-width="0.22">5</text>
<text x="496.73" y="306.40" font-size="10.20" fill="#404040" text-anchor="start" stroke="#404040" stroke-width="0.22">0</text>
<text x="493.36" y="326.17" font-size="10.20" fill="#404040" text-anchor="start" stroke="#404040" stroke-width="0.22">-5</text>
<text x="487.66" y="345.95" font-size="10.20" fill="#404040" text-anchor="start" stroke="#404040" stroke-width="0.22">-10</text>
<text x="487.69" y="365.72" font-size="10.20" fill="#404040" text-anchor="start" stroke="#404040" stroke-width="0.22">-15</text>
<polyline points="425.7,322.0 432.9,323.2 442.0,323.2 452.1,322.7 461.2,321.3 468.5,319.0 475.6,316.0 485.0,312.5 494.8,308.8 503.0,306.0 511.9,302.9 521.3,284.0 530.0,277.2 537.6,272.0 546.0,263.0 554.0,255.2 563.0,250.0 572.2,246.5 581.4,244.2" fill="none" stroke="#00B050" stroke-width="1.3" stroke-linejoin="round"/>
<rect x="423.20" y="319.50" width="5.00" height="5.00" fill="#00B050"/>
<rect x="430.40" y="320.70" width="5.00" height="5.00" fill="#00B050"/>
<rect x="439.50" y="320.70" width="5.00" height="5.00" fill="#00B050"/>
<rect x="449.60" y="320.20" width="5.00" height="5.00" fill="#00B050"/>
<rect x="458.70" y="318.80" width="5.00" height="5.00" fill="#00B050"/>
<rect x="466.00" y="316.50" width="5.00" height="5.00" fill="#00B050"/>
<rect x="473.10" y="313.50" width="5.00" height="5.00" fill="#00B050"/>
<rect x="482.50" y="310.00" width="5.00" height="5.00" fill="#00B050"/>
<rect x="492.30" y="306.30" width="5.00" height="5.00" fill="#00B050"/>
<rect x="500.50" y="303.50" width="5.00" height="5.00" fill="#00B050"/>
<rect x="509.40" y="300.40" width="5.00" height="5.00" fill="#00B050"/>
<rect x="518.80" y="281.50" width="5.00" height="5.00" fill="#00B050"/>
<rect x="527.50" y="274.70" width="5.00" height="5.00" fill="#00B050"/>
<rect x="535.10" y="269.50" width="5.00" height="5.00" fill="#00B050"/>
<rect x="543.50" y="260.50" width="5.00" height="5.00" fill="#00B050"/>
<rect x="551.50" y="252.70" width="5.00" height="5.00" fill="#00B050"/>
<rect x="560.50" y="247.50" width="5.00" height="5.00" fill="#00B050"/>
<rect x="569.70" y="244.00" width="5.00" height="5.00" fill="#00B050"/>
<rect x="578.90" y="241.70" width="5.00" height="5.00" fill="#00B050"/>
<polyline points="427.1,331.6 442.0,331.6 452.0,331.0 467.0,327.0 475.2,320.0 490.0,313.0 511.9,302.9 519.4,276.3 530.0,271.0 546.0,262.5 564.5,252.3 589.5,245.6" fill="none" stroke="#ED7D31" stroke-width="1.3" stroke-linejoin="round"/>
<circle cx="427.10" cy="331.60" r="2.25" fill="#ED7D31"/>
<circle cx="442.00" cy="331.60" r="2.25" fill="#ED7D31"/>
<circle cx="452.00" cy="331.00" r="2.25" fill="#ED7D31"/>
<circle cx="467.00" cy="327.00" r="2.25" fill="#ED7D31"/>
<circle cx="475.20" cy="320.00" r="2.25" fill="#ED7D31"/>
<circle cx="490.00" cy="313.00" r="2.25" fill="#ED7D31"/>
<circle cx="511.90" cy="302.90" r="2.25" fill="#ED7D31"/>
<circle cx="519.40" cy="276.30" r="2.25" fill="#ED7D31"/>
<circle cx="530.00" cy="271.00" r="2.25" fill="#ED7D31"/>
<circle cx="546.00" cy="262.50" r="2.25" fill="#ED7D31"/>
<circle cx="564.50" cy="252.30" r="2.25" fill="#ED7D31"/>
<circle cx="589.50" cy="245.60" r="2.25" fill="#ED7D31"/>
<polyline points="427.1,328.0 432.9,328.0 439.1,328.0 444.9,328.0 452.8,328.0 467.2,324.0 475.2,317.2 511.9,302.9 519.4,275.3 524.8,270.5 533.4,268.6 546.3,261.9 564.5,249.4 589.5,248.1" fill="none" stroke="#000000" stroke-width="1.3" stroke-linejoin="round"/>
<circle cx="427.10" cy="328.00" r="2.25" fill="#000000"/>
<circle cx="432.90" cy="328.00" r="2.25" fill="#000000"/>
<circle cx="439.10" cy="328.00" r="2.25" fill="#000000"/>
<circle cx="444.90" cy="328.00" r="2.25" fill="#000000"/>
<circle cx="452.80" cy="328.00" r="2.25" fill="#000000"/>
<circle cx="467.20" cy="324.00" r="2.25" fill="#000000"/>
<circle cx="475.20" cy="317.20" r="2.25" fill="#000000"/>
<circle cx="511.90" cy="302.90" r="2.25" fill="#000000"/>
<circle cx="519.40" cy="275.30" r="2.25" fill="#000000"/>
<circle cx="524.80" cy="270.50" r="2.25" fill="#000000"/>
<circle cx="533.40" cy="268.60" r="2.25" fill="#000000"/>
<circle cx="546.30" cy="261.90" r="2.25" fill="#000000"/>
<circle cx="564.50" cy="249.40" r="2.25" fill="#000000"/>
<circle cx="589.50" cy="248.10" r="2.25" fill="#000000"/>
<polyline points="411.7,339.1 429.8,335.7 451.8,333.2 466.0,330.1 475.0,324.1 511.9,302.9 519.4,281.1 530.0,273.4 537.6,272.4 544.4,262.8 556.4,261.5 576.0,253.8 601.4,244.2" fill="none" stroke="#0070C0" stroke-width="1.3" stroke-linejoin="round"/>
<circle cx="411.70" cy="339.10" r="2.25" fill="#0070C0"/>
<circle cx="429.80" cy="335.70" r="2.25" fill="#0070C0"/>
<circle cx="451.80" cy="333.20" r="2.25" fill="#0070C0"/>
<circle cx="466.00" cy="330.10" r="2.25" fill="#0070C0"/>
<circle cx="475.00" cy="324.10" r="2.25" fill="#0070C0"/>
<circle cx="511.90" cy="302.90" r="2.25" fill="#0070C0"/>
<circle cx="519.40" cy="281.10" r="2.25" fill="#0070C0"/>
<circle cx="530.00" cy="273.40" r="2.25" fill="#0070C0"/>
<circle cx="537.60" cy="272.40" r="2.25" fill="#0070C0"/>
<circle cx="544.40" cy="262.80" r="2.25" fill="#0070C0"/>
<circle cx="556.40" cy="261.50" r="2.25" fill="#0070C0"/>
<circle cx="576.00" cy="253.80" r="2.25" fill="#0070C0"/>
<circle cx="601.40" cy="244.20" r="2.25" fill="#0070C0"/>
<text x="475.11" y="208.73" font-size="12.87" fill="#333333" text-anchor="start" textLength="84.59" lengthAdjust="spacingAndGlyphs" stroke="#333333" stroke-width="0.15">Finger diameter</text>
<text x="479.39" y="378.70" font-size="10.62" fill="#404040" text-anchor="start" textLength="91.63" lengthAdjust="spacingAndGlyphs" stroke="#404040" stroke-width="0.15">Injected Volume (µL)</text>
<text x="0" y="0" font-size="9.55" fill="#404040" textLength="96.78" lengthAdjust="spacingAndGlyphs" transform="translate(370.82,338.50) rotate(-90)" stroke="#404040" stroke-width="0.15">bending angle (deg)</text>
<rect x="648.50" y="260.40" width="50.10" height="71.80" fill="#fff" stroke="#404040" stroke-width="1"/>
<line x1="651.20" y1="269.50" x2="665.90" y2="269.50" stroke="#00B050" stroke-width="1.3"/>
<rect x="656.05" y="267.25" width="4.50" height="4.50" fill="#00B050"/>
<text x="666.33" y="272.70" font-size="8.28" fill="#595959" text-anchor="start" textLength="28.99" lengthAdjust="spacingAndGlyphs">FD_300</text>
<line x1="651.20" y1="287.80" x2="665.90" y2="287.80" stroke="#ED7D31" stroke-width="1.3"/>
<circle cx="658.30" cy="287.80" r="2.25" fill="#ED7D31"/>
<text x="666.33" y="290.50" font-size="8.28" fill="#595959" text-anchor="start" textLength="28.99" lengthAdjust="spacingAndGlyphs">FD_150</text>
<line x1="651.20" y1="305.50" x2="665.90" y2="305.50" stroke="#000000" stroke-width="1.3"/>
<circle cx="658.30" cy="305.50" r="2.25" fill="#000000"/>
<text x="666.33" y="308.50" font-size="8.28" fill="#595959" text-anchor="start" textLength="28.99" lengthAdjust="spacingAndGlyphs">FD_200</text>
<line x1="651.20" y1="323.50" x2="665.90" y2="323.50" stroke="#0070C0" stroke-width="1.3"/>
<circle cx="658.30" cy="323.50" r="2.25" fill="#0070C0"/>
<text x="666.33" y="326.20" font-size="8.28" fill="#595959" text-anchor="start" textLength="28.99" lengthAdjust="spacingAndGlyphs">FD_100</text>
<text x="364.90" y="213.94" font-size="19.11" fill="#000" text-anchor="start" textLength="4.02" lengthAdjust="spacingAndGlyphs" stroke="#000" stroke-width="0.6">(</text>
<text x="382.38" y="213.94" font-size="19.11" fill="#000" text-anchor="start" textLength="4.02" lengthAdjust="spacingAndGlyphs" stroke="#000" stroke-width="0.6">)</text>
<text x="371.73" y="214.23" font-size="17.84" fill="#000" text-anchor="start" textLength="8.90" lengthAdjust="spacingAndGlyphs" stroke="#000" stroke-width="0.45">d</text>
<line x1="1" y1="1.5" x2="707" y2="1.5" stroke="#3a3a3a" stroke-width="1.3"/>
<line x1="1.5" y1="1" x2="1.5" y2="389.5" stroke="#3a3a3a" stroke-width="1.3"/>
<line x1="706.5" y1="1" x2="706.5" y2="187.5" stroke="#3a3a3a" stroke-width="1.3"/>
<line x1="705.8" y1="187" x2="705.8" y2="389" stroke="#8a8a8a" stroke-width="1.3"/>
<line x1="1" y1="388.7" x2="706.5" y2="388.7" stroke="#3a3a3a" stroke-width="1.5"/>
<line x1="1" y1="187.4" x2="707" y2="187.4" stroke="#1a1a1a" stroke-width="1.5"/>
<line x1="356.5" y1="1" x2="356.5" y2="389" stroke="#1a1a1a" stroke-width="1.3"/>
</svg>
</body></html>
